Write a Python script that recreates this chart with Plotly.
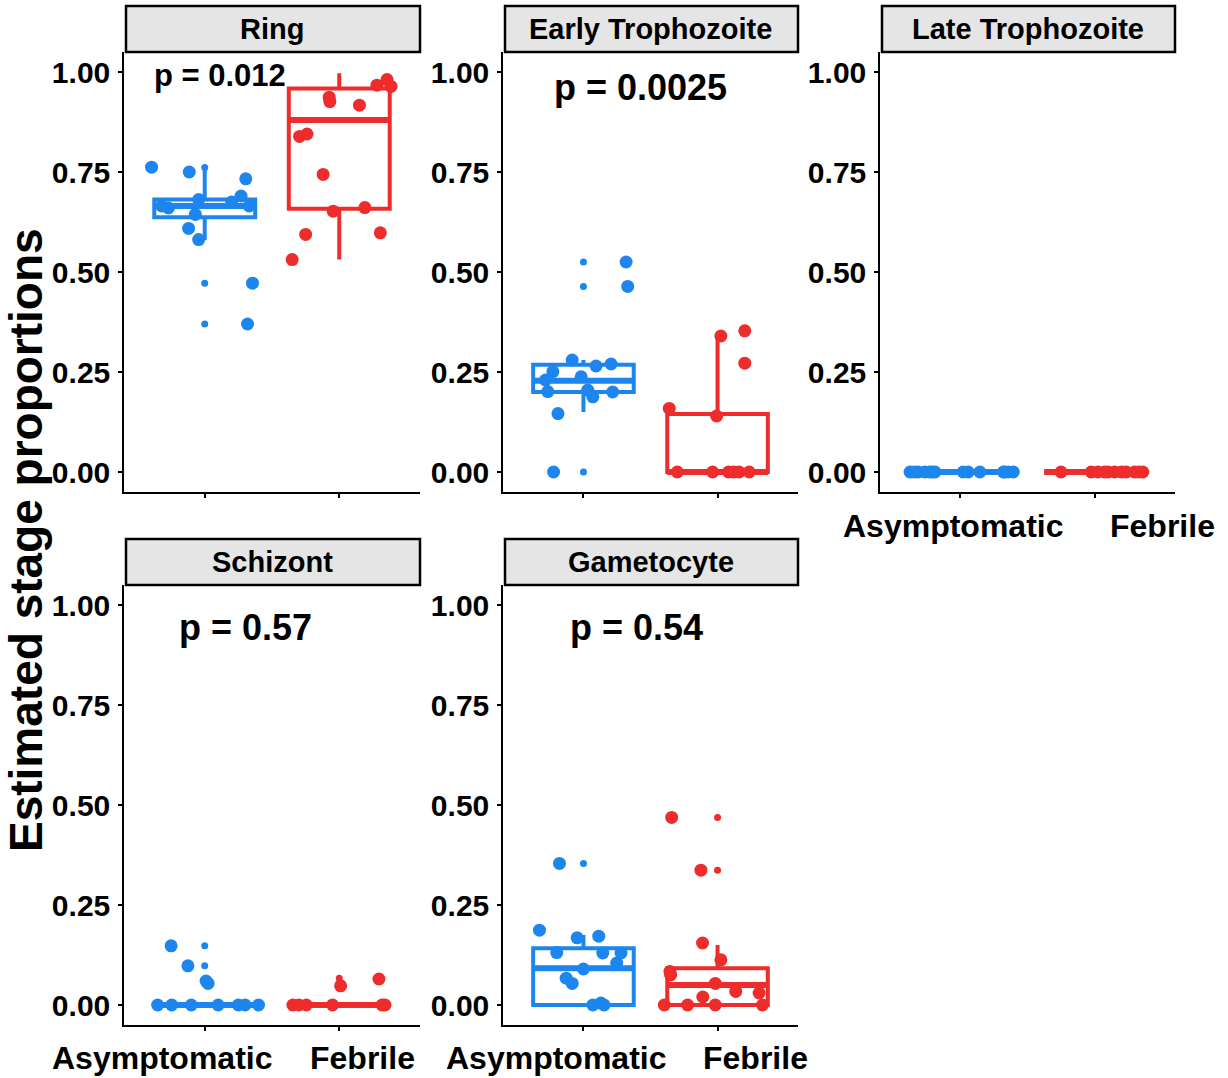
import plotly.graph_objects as go

# ---------------- data ----------------
groups = ["Asymptomatic", "Febrile"]
group_pos = [1, 2]
stages = ["Ring", "Early Trophozoite", "Late Trophozoite", "Schizont", "Gametocyte"]
p_labels = ["p = 0.012", "p = 0.0025", "", "p = 0.57", "p = 0.54"]
y_tickvals = [0, 0.25, 0.5, 0.75, 1.0]
y_ticktext = ["0.00", "0.25", "0.50", "0.75", "1.00"]

# box statistics [lower whisker, q1, median, q3, upper whisker]
ring_asym_box = [0.580, 0.637, 0.665, 0.681, 0.760]
ring_feb_box = [0.531, 0.658, 0.880, 0.959, 0.997]
early_asym_box = [0.150, 0.200, 0.228, 0.268, 0.280]
early_feb_box = [0.0, 0.0, 0.0, 0.145, 0.340]
late_asym_box = [0.0, 0.0, 0.0, 0.0, 0.0]
late_feb_box = [0.0, 0.0, 0.0, 0.0, 0.0]
schiz_asym_box = [0.0, 0.0, 0.0, 0.0, 0.0]
schiz_feb_box = [0.0, 0.0, 0.0, 0.0, 0.0]
gam_asym_box = [0.0, 0.0, 0.092, 0.142, 0.175]
gam_feb_box = [0.0, 0.0, 0.050, 0.092, 0.150]

# individual sample proportions (jittered points) and their jitter offsets
ring_asym_vals = [0.762, 0.750, 0.733, 0.690, 0.681, 0.665, 0.675, 0.665, 0.660, 0.644, 0.609, 0.581, 0.472, 0.370]
ring_asym_jit = [-0.395, -0.115, 0.305, 0.27, -0.045, -0.32, 0.2, 0.33, -0.27, -0.07, -0.12, -0.045, 0.355, 0.318]
ring_feb_vals = [0.937, 0.926, 0.917, 0.967, 0.981, 0.964, 0.839, 0.845, 0.744, 0.652, 0.661, 0.594, 0.598, 0.531]
ring_feb_jit = [-0.075, -0.07, 0.15, 0.28, 0.355, 0.385, -0.295, -0.24, -0.12, -0.045, 0.19, -0.25, 0.305, -0.35]

early_asym_vals = [0.525, 0.464, 0.0, 0.146, 0.280, 0.265, 0.270, 0.251, 0.230, 0.201, 0.238, 0.205, 0.188, 0.200]
early_asym_jit = [0.318, 0.33, -0.223, -0.19, -0.084, 0.094, 0.206, -0.228, -0.283, -0.266, -0.017, 0.032, 0.07, 0.218]
early_feb_vals = [0.159, 0.340, 0.353, 0.272, 0.140, 0.0, 0.0, 0.0, 0.0, 0.0, 0.0]
early_feb_jit = [-0.36, 0.025, 0.203, 0.203, -0.007, -0.037, 0.082, 0.161, 0.236, -0.30, 0.12]

late_asym_vals = [0.0] * 14
late_asym_jit = [-0.376, -0.34, -0.315, -0.265, -0.228, -0.21, -0.19, 0.02, 0.058, 0.145, 0.32, 0.33, 0.357, 0.394]
late_feb_vals = [0.0] * 11
late_feb_jit = [-0.25, -0.025, 0.025, 0.074, 0.10, 0.149, 0.20, 0.236, 0.298, 0.33, 0.36]

schiz_asym_vals = [0.148, 0.098, 0.054, 0.060, 0.0, 0.0, 0.0, 0.0, 0.0, 0.0, 0.0]
schiz_asym_jit = [-0.25, -0.125, 0.025, 0.01, -0.245, 0.25, 0.40, 0.10, -0.10, 0.30, -0.35]
schiz_feb_vals = [0.065, 0.048, 0.0, 0.0, 0.0, 0.0, 0.0, 0.0]
schiz_feb_jit = [0.295, 0.01, -0.345, -0.245, -0.05, 0.318, 0.34, -0.30]

gam_asym_vals = [0.354, 0.187, 0.168, 0.172, 0.131, 0.130, 0.130, 0.105, 0.067, 0.054, 0.0, 0.0, 0.005, 0.090]
gam_asym_jit = [-0.179, -0.328, -0.047, 0.114, -0.199, 0.144, 0.28, 0.248, -0.129, -0.084, 0.07, 0.154, 0.13, 0.0]
gam_feb_vals = [0.469, 0.337, 0.155, 0.113, 0.084, 0.075, 0.054, 0.034, 0.030, 0.020, 0.0, 0.0, 0.0, 0.0]
gam_feb_jit = [-0.342, -0.124, -0.112, 0.025, -0.355, -0.35, -0.017, 0.136, 0.31, -0.11, -0.397, -0.223, -0.017, 0.335]

# boxplot outliers (drawn at the group centre)
ring_asym_out = [0.761, 0.472, 0.370]
ring_feb_out = []
early_asym_out = [0.525, 0.464, 0.0]
early_feb_out = []
late_asym_out = []
late_feb_out = []
schiz_asym_out = [0.148, 0.098, 0.054]
schiz_feb_out = [0.067, 0.048]
gam_asym_out = [0.354]
gam_feb_out = [0.469, 0.337]

panels = [
    (ring_asym_box, ring_feb_box, ring_asym_vals, ring_asym_jit, ring_feb_vals, ring_feb_jit, ring_asym_out, ring_feb_out),
    (early_asym_box, early_feb_box, early_asym_vals, early_asym_jit, early_feb_vals, early_feb_jit, early_asym_out, early_feb_out),
    (late_asym_box, late_feb_box, late_asym_vals, late_asym_jit, late_feb_vals, late_feb_jit, late_asym_out, late_feb_out),
    (schiz_asym_box, schiz_feb_box, schiz_asym_vals, schiz_asym_jit, schiz_feb_vals, schiz_feb_jit, schiz_asym_out, schiz_feb_out),
    (gam_asym_box, gam_feb_box, gam_asym_vals, gam_asym_jit, gam_feb_vals, gam_feb_jit, gam_asym_out, gam_feb_out),
]

# ---------------- styling / layout ----------------
W, H = 1228, 1078
COLORS = ["#1C86EE", "#EE2C2C"]
FONT = "Liberation Sans, Arial, sans-serif"
BOX_W = 0.75

col_px = [(124, 420), (503, 798), (880, 1175)]
row_px = [(52, 492), (585, 1025)]
strip_px = [(6, 52), (539, 585)]
panel_grid = [(0, 0), (0, 1), (0, 2), (1, 0), (1, 1)]

fig = go.Figure()
layout = dict(
    width=W, height=H, margin=dict(l=0, r=0, t=0, b=0),
    paper_bgcolor="white", plot_bgcolor="white", showlegend=False,
    font=dict(family=FONT, color="black"),
)
shapes, annotations = [], []

for i, (stage, data) in enumerate(zip(stages, panels)):
    r, c = panel_grid[i]
    sfx = "" if i == 0 else str(i + 1)
    xa, ya = "x" + sfx, "y" + sfx
    box_a, box_f, va, ja, vf, jf, oa, of = data

    for g, (box, vals, jit, outs) in enumerate([(box_a, va, ja, oa), (box_f, vf, jf, of)]):
        xc = group_pos[g]
        fig.add_trace(go.Box(
            x=[xc], lowerfence=[box[0]], q1=[box[1]], median=[box[2]], q3=[box[3]], upperfence=[box[4]],
            width=BOX_W, whiskerwidth=0, boxpoints=False,
            fillcolor="rgba(255,255,255,0)", line=dict(color=COLORS[g], width=4),
            xaxis=xa, yaxis=ya, hoverinfo="skip",
        ))
        # thicker median bar (ggplot style)
        fig.add_trace(go.Scatter(
            x=[xc - BOX_W / 2, xc + BOX_W / 2], y=[box[2], box[2]], mode="lines",
            line=dict(color=COLORS[g], width=6), xaxis=xa, yaxis=ya, hoverinfo="skip",
        ))
        if outs:
            fig.add_trace(go.Scatter(
                x=[xc] * len(outs), y=outs, mode="markers",
                marker=dict(color=COLORS[g], size=7, line=dict(width=0)),
                xaxis=xa, yaxis=ya, hoverinfo="skip",
            ))
        fig.add_trace(go.Scatter(
            x=[xc + j for j in jit], y=vals, mode="markers",
            marker=dict(color=COLORS[g], size=13, line=dict(width=0)),
            xaxis=xa, yaxis=ya, hoverinfo="skip",
        ))

    x0, x1 = col_px[c]
    y0, y1 = row_px[r]
    axis_common = dict(showline=True, linecolor="black", linewidth=1.5, ticks="outside",
                       ticklen=4, tickwidth=1.5, tickcolor="black", showgrid=False, zeroline=False)
    layout["xaxis" + sfx] = dict(
        domain=[x0 / W, x1 / W], anchor=ya, range=[0.4, 2.6],
        tickvals=group_pos, ticktext=["", ""], **axis_common)
    layout["yaxis" + sfx] = dict(
        domain=[1 - y1 / H, 1 - y0 / H], anchor=xa, range=[-0.05, 1.05],
        tickvals=y_tickvals, ticktext=y_ticktext,
        tickfont=dict(size=30, family=FONT, weight="bold"), ticklabelstandoff=2, **axis_common)

    # facet strip
    s0, s1 = strip_px[r]
    shapes.append(dict(type="rect", xref="paper", yref="paper",
                       x0=(x0 + 2) / W, x1=x1 / W, y0=1 - s1 / H, y1=1 - s0 / H,
                       fillcolor="#E5E5E5", line=dict(color="black", width=2.5)))
    annotations.append(dict(text=stage, xref="paper", yref="paper",
                            x=(x0 + x1) / 2 / W, y=1 - (s0 + s1) / 2 / H,
                            showarrow=False, xanchor="center", yanchor="middle",
                            font=dict(size=29, family=FONT, weight="bold")))

# p-value labels
p_pos = [(220, 75, 31), (640, 87, 36), None, (245, 627, 36), (636, 627, 36)]
for lab, pos in zip(p_labels, p_pos):
    if pos and lab:
        annotations.append(dict(text=lab, xref="paper", yref="paper", x=pos[0] / W, y=1 - pos[1] / H,
                                showarrow=False, xanchor="center", yanchor="middle",
                                font=dict(size=pos[2], family=FONT, weight="bold")))

# group labels under the bottom panels
xlab_pos = [((162, 362), 1058), ((556, 755), 1058), ((953, 1162), 526)]
for (xs, yy) in xlab_pos:
    for g, xx in zip(groups, xs):
        annotations.append(dict(text=g, xref="paper", yref="paper", x=xx / W, y=1 - yy / H,
                                showarrow=False, xanchor="center", yanchor="middle",
                                font=dict(size=32, family=FONT, weight="bold")))

# y-axis title
annotations.append(dict(text="Estimated stage proportions", xref="paper", yref="paper",
                        x=26 / W, y=1 - 540 / H, textangle=-90, showarrow=False,
                        xanchor="center", yanchor="middle",
                        font=dict(size=46, family=FONT, weight="bold")))

layout["shapes"] = shapes
layout["annotations"] = annotations
fig.update_layout(**layout)
fig.write_html("out.html")
